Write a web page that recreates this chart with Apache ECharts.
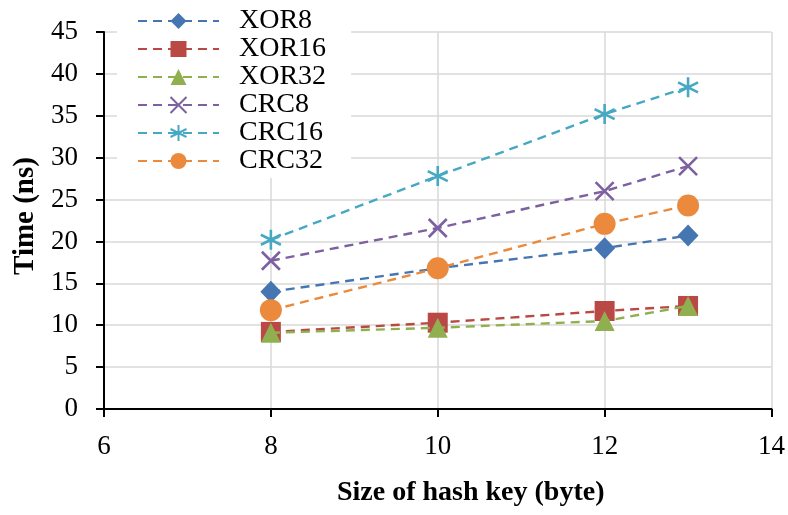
<!DOCTYPE html>
<html>
<head>
<meta charset="utf-8">
<script src="https://cdn.jsdelivr.net/npm/echarts@6/dist/echarts.min.js"></script>
<style>html,body{margin:0;padding:0;background:#fff;}#c{width:788px;height:515px;}</style>
</head>
<body>
<div id="c"></div>
<script>
const keySizes = [8, 10, 12, 13];
const seriesNames = ['XOR8', 'XOR16', 'XOR32', 'CRC8', 'CRC16', 'CRC32'];
const xor8 = [14.0, 16.8, 19.2, 20.7];
const xor16 = [9.2, 10.3, 11.7, 12.3];
const xor32 = [9.1, 9.7, 10.5, 12.3];
const crc8 = [17.7, 21.6, 26.0, 29.0];
const crc16 = [20.2, 27.8, 35.2, 38.4];
const crc32 = [11.8, 16.8, 22.1, 24.3];
const xTicks = [6, 8, 10, 12, 14];
const yTicks = [0, 5, 10, 15, 20, 25, 30, 35, 40, 45];

const values = [xor8, xor16, xor32, crc8, crc16, crc32];
const colors = ['#4676B2', '#BA4844', '#90B050', '#7D60A0', '#46A8C2', '#EB8A3C'];
const symbols = [
  'diamond', 'rect', 'triangle',
  'path://M0,0L20,20M20,0L0,20',
  'path://M10,0L10,20M1,5L19,15M19,5L1,15',
  'circle'
];
const sizes = [[21, 22], 20, 20, 18, 20, 22];
const FONT = '"Liberation Serif", "Times New Roman", serif';

const series = seriesNames.map((name, i) => {
  const stroke = symbols[i].startsWith('path://');
  return {
    name: name,
    type: 'line',
    data: keySizes.map((k, j) => [k, values[i][j]]),
    symbol: symbols[i],
    symbolSize: sizes[i],
    lineStyle: { color: colors[i], width: 2.4, type: [9, 6] },
    itemStyle: stroke
      ? { color: colors[i], borderColor: colors[i], borderWidth: 2.6 }
      : { color: colors[i], borderWidth: 0 },
    z: 2 + i
  };
});

const chart = echarts.init(document.getElementById('c'), null, { renderer: 'canvas' });
chart.setOption({
  animation: false,
  backgroundColor: '#fff',
  grid: { left: 104, right: 16, top: 32, bottom: 106 },
  xAxis: {
    type: 'value',
    min: xTicks[0], max: xTicks[xTicks.length - 1], interval: 2,
    name: 'Size of hash key (byte)',
    nameLocation: 'middle',
    nameGap: 70,
    nameTextStyle: { fontFamily: FONT, fontSize: 28, fontWeight: 'bold', color: '#000', padding: [0, 0, 0, 66] },
    axisLine: { onZero: false, lineStyle: { color: '#000', width: 2 } },
    axisTick: { show: true, length: 8, lineStyle: { color: '#000', width: 2 } },
    axisLabel: { margin: 24, fontFamily: FONT, fontSize: 27, color: '#000' },
    splitLine: { show: true, lineStyle: { color: '#D9D9D9', width: 1.5 } }
  },
  yAxis: {
    type: 'value',
    min: yTicks[0], max: yTicks[yTicks.length - 1], interval: 5,
    name: 'Time (ns)',
    nameLocation: 'middle',
    nameGap: 62,
    nameTextStyle: { fontFamily: FONT, fontSize: 29, fontWeight: 'bold', color: '#000', padding: [0, 0, 0, 9] },
    axisLine: { show: true, lineStyle: { color: '#000', width: 2 } },
    axisTick: { show: true, length: 8, lineStyle: { color: '#000', width: 2 } },
    axisLabel: { margin: 26, fontFamily: FONT, fontSize: 27, color: '#000' },
    splitLine: { show: true, lineStyle: { color: '#D9D9D9', width: 1.5 } }
  },
  legend: {
    data: seriesNames,
    orient: 'vertical',
    left: 117,
    top: 0,
    padding: [7, 25, 3, 20],
    backgroundColor: '#fff',
    itemWidth: 81,
    itemHeight: 20,
    itemGap: 0,
    textStyle: { fontFamily: FONT, fontSize: 28, color: '#000', lineHeight: 27.2, padding: [0, 0, 0, 15] }
  },
  series: series
});
</script>
</body>
</html>
